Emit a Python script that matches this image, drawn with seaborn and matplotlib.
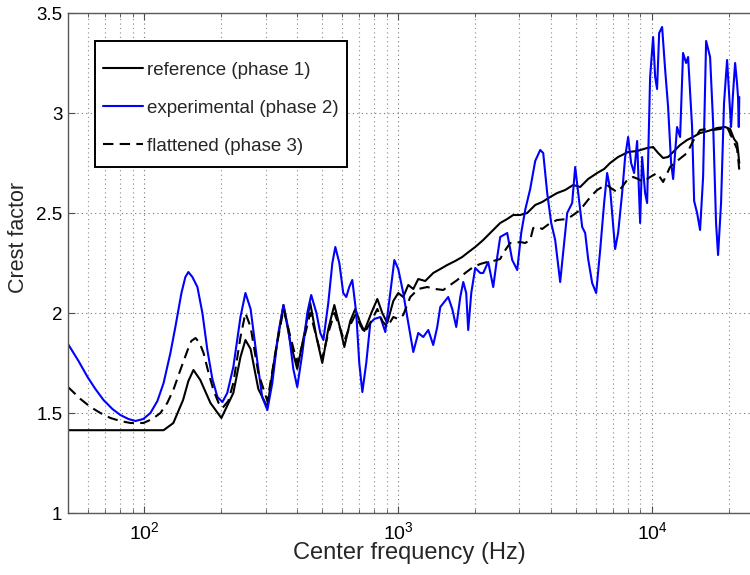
import matplotlib
matplotlib.use("Agg")
import matplotlib.pyplot as plt
import seaborn as sns
import pandas as pd
from matplotlib.patches import Rectangle
from matplotlib.ticker import FixedLocator, FixedFormatter, LogLocator, NullFormatter

# ---------------- data ----------------
series_labels = ["reference (phase 1)", "experimental (phase 2)", "flattened (phase 3)"]

ref_freq = [50, 119, 130, 142, 149, 156, 166, 182, 201, 224, 239, 250, 262, 281, 305, 328, 353, 376,
            400, 427, 450, 476, 502, 530, 560, 591, 613, 647, 677, 709, 735, 783, 827, 865, 905, 956,
            1000, 1046, 1095, 1146, 1199, 1277, 1373, 1464, 1559, 1676, 1786, 1870, 2010, 2161, 2302,
            2521, 2686, 2837, 3022, 3220, 3463, 3690, 3967, 4227, 4545, 4887, 5207, 5598, 6075, 6471,
            6833, 7347, 8045, 8729, 9557, 10090, 10560, 11050, 11560, 12100, 12890, 13730, 14500,
            15450, 16620, 18030, 19390, 20290, 21030, 21610, 21850, 22050]
ref_cf = [1.414, 1.414, 1.45, 1.565, 1.66, 1.715, 1.665, 1.55, 1.475, 1.60, 1.78, 1.865, 1.82, 1.62,
          1.53, 1.80, 2.04, 1.85, 1.72, 1.90, 2.05, 1.88, 1.75, 1.92, 2.04, 1.92, 1.83, 1.96, 2.02,
          1.95, 1.91, 2.00, 2.07, 2.00, 1.95, 2.06, 2.10, 2.08, 2.14, 2.12, 2.17, 2.16, 2.20, 2.22,
          2.24, 2.26, 2.28, 2.30, 2.33, 2.365, 2.40, 2.45, 2.47, 2.49, 2.49, 2.50, 2.54, 2.555, 2.58,
          2.60, 2.615, 2.64, 2.63, 2.67, 2.70, 2.72, 2.75, 2.78, 2.805, 2.81, 2.825, 2.83, 2.80,
          2.775, 2.78, 2.805, 2.84, 2.865, 2.88, 2.90, 2.91, 2.925, 2.93, 2.92, 2.87, 2.85, 2.80, 2.75]

exp_freq = [50, 55, 59.7, 64.1, 69, 74.8, 80.4, 86.5, 92.2, 99, 105.6, 112.5, 119, 126.6, 132.4, 139.9,
            145, 149, 154.5, 161.7, 169.2, 177, 185.2, 193.9, 203, 212, 224, 239, 250, 262, 279, 291,
            305, 319, 337, 353, 369, 386, 400, 419, 438, 454, 476, 493, 507, 530, 550, 565, 586, 607,
            624, 641, 659, 683, 702, 722, 748, 776, 805, 850, 889, 930, 965, 1000, 1046, 1095, 1146,
            1199, 1254, 1313, 1373, 1424, 1464, 1573, 1632, 1692, 1755, 1803, 1852, 1886, 1939, 2010,
            2103, 2161, 2261, 2366, 2454, 2521, 2686, 2811, 2942, 3050, 3162, 3309, 3463, 3624, 3724,
            3861, 4004, 4151, 4343, 4503, 4629, 4842, 4977, 5114, 5303, 5449, 5598, 5805, 6020, 6243,
            6471, 6650, 6833, 7150, 7347, 7619, 7830, 8045, 8267, 8494, 8729, 8970, 9133, 9384, 9557,
            9820, 10090, 10280, 10460, 10660, 10950, 11250, 11560, 11880, 12100, 12540, 12890, 13240,
            13610, 13860, 14370, 14640, 15040, 15450, 15880, 16320, 16920, 17390, 17860, 18190, 18690,
            19200, 19740, 20100, 20460, 20840, 21230, 21600, 21800, 21950, 22050]
exp_cf = [1.845, 1.76, 1.68, 1.62, 1.565, 1.52, 1.49, 1.47, 1.46, 1.47, 1.50, 1.56, 1.65, 1.80, 1.93,
          2.10, 2.18, 2.205, 2.18, 2.13, 2.00, 1.815, 1.67, 1.58, 1.555, 1.60, 1.73, 1.98, 2.10, 2.02,
          1.75, 1.58, 1.515, 1.65, 1.90, 2.04, 1.92, 1.72, 1.63, 1.80, 2.00, 2.09, 2.00, 1.90, 1.865,
          2.05, 2.25, 2.33, 2.25, 2.10, 2.08, 2.13, 2.165, 2.00, 1.75, 1.605, 1.75, 1.95, 1.97, 1.98,
          1.905, 2.10, 2.265, 2.22, 2.10, 1.95, 1.805, 1.90, 1.88, 1.915, 1.84, 1.93, 2.03, 2.08,
          2.02, 1.93, 2.08, 2.155, 2.10, 1.915, 2.10, 2.225, 2.20, 2.20, 2.255, 2.13, 2.28, 2.38,
          2.40, 2.265, 2.215, 2.40, 2.515, 2.62, 2.76, 2.815, 2.80, 2.60, 2.45, 2.365, 2.155, 2.35,
          2.50, 2.55, 2.73, 2.60, 2.43, 2.40, 2.27, 2.15, 2.10, 2.315, 2.55, 2.70, 2.62, 2.32, 2.40,
          2.60, 2.78, 2.88, 2.75, 2.70, 2.86, 2.45, 2.78, 2.60, 2.55, 3.18, 3.38, 3.18, 3.12, 3.40,
          3.43, 3.22, 3.03, 2.75, 2.67, 2.93, 2.88, 3.30, 3.25, 3.28, 2.93, 2.56, 2.50, 2.415, 2.68,
          3.36, 3.28, 2.95, 2.45, 2.29, 2.55, 3.05, 3.265, 3.10, 2.93, 3.10, 3.25, 3.15, 3.08, 2.93,
          3.08]

flat_freq = [50, 56, 61.3, 67.1, 73.5, 80.4, 88.1, 99, 107.5, 115.6, 123, 130, 139, 148, 153, 159, 165,
             171, 179, 187, 196, 203, 214, 224, 239, 250, 262, 281, 305, 328, 353, 376, 400, 427, 450,
             476, 502, 530, 560, 591, 613, 647, 677, 709, 735, 783, 827, 865, 905, 956, 1000, 1046,
             1115, 1199, 1301, 1399, 1504, 1602, 1708, 1835, 1974, 2103, 2241, 2366, 2521, 2591, 2760,
             2888, 3022, 3162, 3309, 3401, 3559, 3690, 3967, 4227, 4629, 4887, 5207, 5548, 5805, 6075,
             6355, 6650, 6958, 7281, 7619, 7972, 8418, 8809, 9217, 9820, 10460, 11050, 11770, 12540,
             13730, 14500, 15450, 16470, 17390, 18520, 19740, 20840, 21610, 21850, 22050]
flat_cf = [1.63, 1.57, 1.53, 1.50, 1.475, 1.46, 1.45, 1.45, 1.47, 1.50, 1.55, 1.615, 1.72, 1.815, 1.86,
           1.875, 1.85, 1.80, 1.70, 1.615, 1.55, 1.525, 1.56, 1.65, 1.88, 2.00, 1.93, 1.70, 1.56, 1.80,
           2.02, 1.88, 1.75, 1.88, 2.00, 1.88, 1.77, 1.90, 2.00, 1.92, 1.86, 1.94, 1.99, 1.94, 1.90,
           1.96, 2.02, 1.96, 1.93, 1.98, 1.97, 1.99, 2.08, 2.12, 2.13, 2.12, 2.115, 2.14, 2.165, 2.20,
           2.23, 2.245, 2.255, 2.26, 2.27, 2.30, 2.35, 2.35, 2.355, 2.35, 2.365, 2.425, 2.43, 2.42,
           2.45, 2.465, 2.47, 2.49, 2.515, 2.56, 2.59, 2.615, 2.63, 2.64, 2.62, 2.605, 2.63, 2.665,
           2.68, 2.67, 2.655, 2.68, 2.70, 2.655, 2.73, 2.76, 2.80, 2.86, 2.915, 2.92, 2.915, 2.92,
           2.93, 2.865, 2.82, 2.765, 2.715]

x_ticks = [1e2, 1e3, 1e4]
x_tick_labels = [r"$\mathdefault{10^{2}}$", r"$\mathdefault{10^{3}}$", r"$\mathdefault{10^{4}}$"]
y_ticks = [1, 1.5, 2, 2.5, 3, 3.5]
y_tick_labels = ["1", "1.5", "2", "2.5", "3", "3.5"]
x_label = "Center frequency (Hz)"
y_label = "Crest factor"

# ---------------- style ----------------
sns.set_style("white")
plt.rcParams["font.family"] = ["Liberation Sans", "DejaVu Sans"]
plt.rcParams["mathtext.fontset"] = "custom"
plt.rcParams["mathtext.rm"] = "Liberation Sans"
plt.rcParams["mathtext.it"] = "Liberation Sans"
plt.rcParams["mathtext.bf"] = "Liberation Sans"

fig = plt.figure(figsize=(7.5, 5.75), dpi=100)
ax = fig.add_axes([68 / 750, 62 / 575, 682 / 750, 500 / 575])

df_ref = pd.DataFrame({"freq": ref_freq, "cf": ref_cf})
df_exp = pd.DataFrame({"freq": exp_freq, "cf": exp_cf})
df_flat = pd.DataFrame({"freq": flat_freq, "cf": flat_cf})

sns.lineplot(data=df_ref, x="freq", y="cf", ax=ax, color="black", linewidth=1.5,
             estimator=None, sort=False, label=series_labels[0])
sns.lineplot(data=df_exp, x="freq", y="cf", ax=ax, color="#0000ff", linewidth=1.5,
             estimator=None, sort=False, label=series_labels[1])
sns.lineplot(data=df_flat, x="freq", y="cf", ax=ax, color="black", linewidth=1.5,
             estimator=None, sort=False, label=series_labels[2])
ax.lines[2].set_dashes([5, 3])

ax.set_xscale("log")
ax.set_xlim(50, 24300)
ax.set_ylim(1, 3.5)

ax.xaxis.set_major_locator(FixedLocator(x_ticks))
ax.xaxis.set_major_formatter(FixedFormatter(x_tick_labels))
ax.xaxis.set_minor_locator(LogLocator(base=10, subs=range(2, 10), numticks=20))
ax.xaxis.set_minor_formatter(NullFormatter())
ax.yaxis.set_major_locator(FixedLocator(y_ticks))
ax.yaxis.set_major_formatter(FixedFormatter(y_tick_labels))

ax.grid(True, which="major", axis="both", color="0.45", linestyle=(0, (1, 3)), linewidth=0.8)
ax.grid(True, which="minor", axis="x", color="0.55", linestyle=(0, (1, 3)), linewidth=0.8)

ax.tick_params(axis="both", which="both", direction="in", top=True, bottom=True, left=True,
               right=False, colors="0.3", labelcolor="black")
ax.tick_params(axis="both", which="major", length=5, width=0.8)
ax.tick_params(axis="x", which="minor", length=3, width=0.6)
ax.tick_params(axis="x", which="major", labelsize=14, pad=6)
ax.tick_params(axis="y", which="major", labelsize=13.5, pad=4)

for side in ["left", "bottom", "top"]:
    ax.spines[side].set_visible(True)
    ax.spines[side].set_color("0.35")
    ax.spines[side].set_linewidth(1.0)
ax.spines["right"].set_visible(False)

ax.set_xlabel(x_label, fontsize=17)
ax.set_ylabel(y_label, fontsize=15.5)
ax.xaxis.set_label_coords(0.501, -0.058)
ax.yaxis.set_label_coords(-0.057, 0.552)

# legend box (MATLAB style: wide vertical padding, tight horizontal padding)
box = Rectangle((0.0396, 0.692), 0.3694, 0.252, transform=ax.transAxes,
                facecolor="white", edgecolor="black", linewidth=1.4, zorder=4.5)
ax.add_patch(box)
leg = ax.legend(loc="upper left", bbox_to_anchor=(0.0513, 0.903), borderaxespad=0,
                frameon=False, fontsize=13.5, handlelength=2.15,
                handletextpad=0.2, labelspacing=1.12, borderpad=0)
leg.set_zorder(5)
leg.get_lines()[2].set_dashes([5, 3])

fig.savefig("out.png", dpi=100)
